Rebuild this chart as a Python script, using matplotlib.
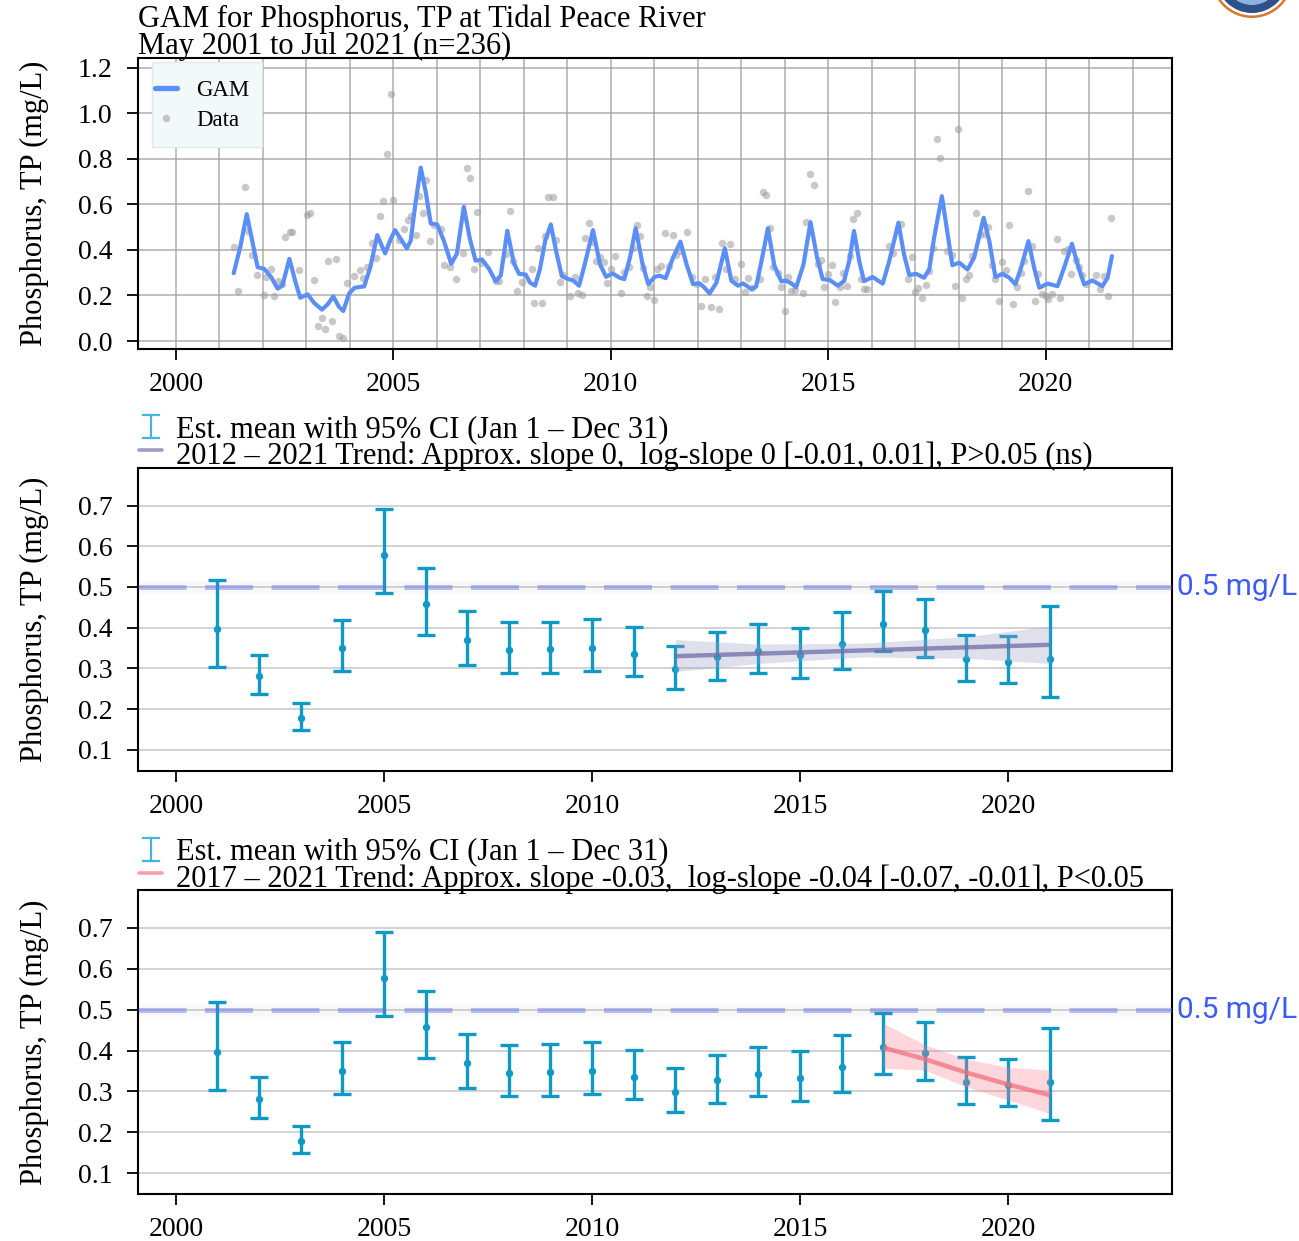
import numpy as np
import matplotlib
matplotlib.use("Agg")
import matplotlib.pyplot as plt
from matplotlib.lines import Line2D
from matplotlib.patches import Ellipse, Rectangle

plt.rcParams['font.family'] = ['Liberation Serif', 'DejaVu Serif']

# ---- top panel: GAM curve ----
gam_t = [2001.33, 2001.48, 2001.63, 2001.77, 2001.88, 2002.03, 2002.19, 2002.34, 2002.45, 2002.61,
         2002.76, 2002.86, 2003.03, 2003.18, 2003.36, 2003.49, 2003.62, 2003.75, 2003.85, 2003.98,
         2004.11, 2004.33, 2004.47, 2004.63, 2004.81, 2004.94, 2005.04, 2005.17, 2005.31, 2005.40,
         2005.51, 2005.63, 2005.74, 2005.86, 2006.01, 2006.16, 2006.33, 2006.46, 2006.62, 2006.76,
         2006.89, 2007.04, 2007.20, 2007.35, 2007.47, 2007.62, 2007.77, 2007.89, 2008.04,
         2008.14, 2008.26, 2008.37, 2008.49, 2008.62, 2008.74, 2008.87, 2008.98, 2009.14, 2009.27,
         2009.40, 2009.59, 2009.75, 2009.89, 2010.04, 2010.19, 2010.31, 2010.44, 2010.57, 2010.73,
         2010.86, 2011.01, 2011.12, 2011.26, 2011.43, 2011.60, 2011.74, 2011.89, 2012.04, 2012.16,
         2012.27, 2012.43, 2012.62, 2012.77, 2012.92, 2013.04, 2013.23, 2013.34, 2013.48, 2013.61,
         2013.76, 2013.92, 2014.03, 2014.15, 2014.26, 2014.43, 2014.59, 2014.74, 2014.87, 2015.03,
         2015.22, 2015.36, 2015.48, 2015.59, 2015.71, 2015.82, 2016.02, 2016.25, 2016.40, 2016.61,
         2016.74, 2016.86, 2017.02, 2017.20, 2017.32, 2017.43, 2017.61, 2017.72, 2017.85, 2018.01,
         2018.20, 2018.35, 2018.57, 2018.70, 2018.84, 2019.00, 2019.16, 2019.30, 2019.43, 2019.60,
         2019.73, 2019.85, 2020.04, 2020.27, 2020.42, 2020.60, 2020.73, 2020.88, 2021.07, 2021.30,
         2021.42, 2021.52]
gam_v = [0.298, 0.412, 0.557, 0.426, 0.324, 0.317, 0.281, 0.230, 0.244, 0.361,
         0.252, 0.190, 0.205, 0.167, 0.138, 0.161, 0.196, 0.150, 0.132, 0.208,
         0.234, 0.240, 0.324, 0.465, 0.385, 0.448, 0.487, 0.448, 0.407, 0.441,
         0.608, 0.761, 0.659, 0.516, 0.511, 0.441, 0.339, 0.383, 0.589, 0.448,
         0.353, 0.358, 0.317, 0.263, 0.288, 0.484, 0.342, 0.295, 0.292,
         0.257, 0.243, 0.316, 0.439, 0.512, 0.396, 0.287, 0.275, 0.265, 0.243,
         0.337, 0.487, 0.337, 0.282, 0.297, 0.279, 0.272, 0.367, 0.495, 0.337,
         0.250, 0.282, 0.287, 0.276, 0.367, 0.436, 0.337, 0.250, 0.253, 0.233,
         0.209, 0.257, 0.407, 0.265, 0.243, 0.253, 0.228, 0.239, 0.367, 0.495,
         0.330, 0.262, 0.265, 0.253, 0.236, 0.337, 0.522, 0.367, 0.272, 0.268,
         0.243, 0.263, 0.351, 0.483, 0.351, 0.263, 0.281, 0.252, 0.351, 0.519,
         0.380, 0.290, 0.295, 0.278, 0.314, 0.453, 0.636, 0.497, 0.333, 0.344,
         0.314, 0.366, 0.541, 0.439, 0.281, 0.295, 0.278, 0.249, 0.322, 0.439,
         0.322, 0.234, 0.252, 0.241, 0.322, 0.427, 0.336, 0.249, 0.266, 0.241,
         0.278, 0.373]

# ---- top panel: observations ----
obs_t = [2001.33, 2001.42, 2001.60, 2001.67, 2001.74, 2001.86, 2002.02, 2002.07, 2002.19, 2002.26,
         2002.34, 2002.43, 2002.51, 2002.63, 2002.68, 2002.84, 2003.01, 2003.09, 2003.18, 2003.27,
         2003.35, 2003.43, 2003.50, 2003.60, 2003.68, 2003.75, 2003.84, 2003.93, 2004.10, 2004.24,
         2004.31, 2004.40, 2004.50, 2004.60, 2004.69, 2004.76, 2004.85, 2004.94, 2005.00, 2005.13,
         2005.25, 2005.34, 2005.40, 2005.51, 2005.59, 2005.68, 2005.76, 2005.84, 2005.93, 2006.09,
         2006.16, 2006.30, 2006.43, 2006.59, 2006.69, 2006.76, 2006.85, 2006.93, 2007.01, 2007.17,
         2007.35, 2007.43, 2007.58, 2007.68, 2007.76, 2007.85, 2007.96,
         2008.18, 2008.23, 2008.41, 2008.33, 2008.48, 2008.56, 2008.66, 2008.75, 2008.83, 2008.91,
         2009.07, 2009.17, 2009.25, 2009.33, 2009.40, 2009.49, 2009.58, 2009.67, 2009.75, 2009.84,
         2009.92, 2010.00, 2010.09, 2010.24, 2010.30, 2010.42, 2010.50, 2010.59, 2010.67, 2010.73,
         2010.82, 2010.91, 2010.99, 2011.07, 2011.16, 2011.24, 2011.42, 2011.33, 2011.50, 2011.60,
         2011.74, 2011.87, 2011.97, 2012.07, 2012.16, 2012.31, 2012.39, 2012.49, 2012.56, 2012.65,
         2012.74, 2012.85, 2012.99, 2013.08, 2013.15, 2013.25, 2013.42, 2013.50, 2013.57, 2013.66,
         2013.73, 2013.84, 2013.92, 2014.01, 2014.07, 2014.15, 2014.24, 2014.41, 2014.48, 2014.58,
         2014.66, 2014.76, 2014.84, 2014.91, 2014.99, 2015.08, 2015.16, 2015.26,
         2015.33, 2015.42, 2015.49, 2015.57, 2015.66, 2015.74, 2015.82, 2015.90, 2016.40, 2016.48,
         2016.67, 2016.83, 2016.92, 2017.00, 2017.07, 2017.15, 2017.24, 2017.32, 2017.41, 2017.49,
         2017.56, 2017.72, 2017.85, 2017.92, 2017.99, 2018.08, 2018.16, 2018.23, 2018.31, 2018.40,
         2018.48, 2018.61, 2018.68, 2018.76, 2018.84, 2018.93, 2019.00, 2019.08, 2019.16, 2019.25,
         2019.33, 2019.43, 2019.50, 2019.58, 2019.68, 2019.75, 2019.83, 2019.92, 2020.00, 2020.06,
         2020.15, 2020.25, 2020.32, 2020.42, 2020.50, 2020.57, 2020.69, 2020.77, 2020.84, 2020.93,
         2021.16, 2021.24, 2021.34, 2021.42, 2021.49]
obs_v = [0.412, 0.220, 0.676, 0.481, 0.378, 0.288, 0.201, 0.281, 0.317, 0.196,
         0.263, 0.252, 0.455, 0.480, 0.477, 0.310, 0.553, 0.560, 0.266, 0.065,
         0.099, 0.051, 0.353, 0.089, 0.361, 0.022, 0.012, 0.255, 0.284, 0.313,
         0.276, 0.324, 0.432, 0.365, 0.551, 0.615, 0.822, 1.084, 0.618, 0.444,
         0.490, 0.531, 0.550, 0.467, 0.637, 0.563, 0.708, 0.439, 0.511, 0.492,
         0.336, 0.327, 0.271, 0.385, 0.758, 0.714, 0.317, 0.567, 0.342, 0.393,
         0.262, 0.262, 0.383, 0.569, 0.353, 0.220, 0.259,
         0.316, 0.166, 0.166, 0.410, 0.461, 0.631, 0.631, 0.442, 0.260, 0.291,
         0.196, 0.279, 0.209, 0.204, 0.451, 0.519, 0.436, 0.352, 0.369, 0.345,
         0.253, 0.316, 0.374, 0.211, 0.301, 0.326, 0.410, 0.509, 0.461, 0.320,
         0.199, 0.236, 0.182, 0.316, 0.330, 0.476, 0.465, 0.330, 0.378, 0.396,
         0.480, 0.279, 0.250, 0.156, 0.272, 0.148, 0.282, 0.141, 0.432, 0.316,
         0.425, 0.272, 0.340, 0.214, 0.276, 0.233, 0.272, 0.655, 0.643, 0.497,
         0.323, 0.297, 0.239, 0.134, 0.279, 0.218, 0.224, 0.209, 0.524, 0.733,
         0.687, 0.337, 0.355, 0.236, 0.294, 0.333, 0.170, 0.236,
         0.300, 0.241, 0.373, 0.538, 0.563, 0.271, 0.227, 0.227, 0.417, 0.388,
         0.515, 0.271, 0.369, 0.216, 0.234, 0.190, 0.246, 0.307, 0.407, 0.885,
         0.804, 0.395, 0.377, 0.241, 0.933, 0.190, 0.271, 0.290, 0.373, 0.563,
         0.465, 0.471, 0.500, 0.336, 0.271, 0.176, 0.348, 0.314, 0.509, 0.161,
         0.237, 0.300, 0.351, 0.658, 0.417, 0.176, 0.293, 0.205, 0.197, 0.183,
         0.205, 0.446, 0.187, 0.395, 0.402, 0.295, 0.358, 0.325, 0.290, 0.249,
         0.288, 0.227, 0.285, 0.197, 0.541]

# ---- annual means with 95% CI ----
ci_year = list(range(2001, 2022))
ci_mean = [0.397, 0.281, 0.179, 0.351, 0.578, 0.458, 0.369, 0.345, 0.347, 0.351, 0.336,
           0.299, 0.327, 0.342, 0.333, 0.360, 0.409, 0.395, 0.323, 0.316, 0.323]
ci_lo = [0.303, 0.236, 0.149, 0.293, 0.484, 0.382, 0.309, 0.288, 0.289, 0.293, 0.281,
         0.249, 0.272, 0.288, 0.276, 0.298, 0.342, 0.329, 0.269, 0.263, 0.230]
ci_hi = [0.518, 0.334, 0.214, 0.420, 0.691, 0.546, 0.441, 0.413, 0.415, 0.421, 0.401,
         0.356, 0.390, 0.408, 0.400, 0.438, 0.491, 0.471, 0.383, 0.379, 0.454]

# ---- trends ----
trend1_year = [2012, 2021]
trend1_fit = [0.330, 0.358]
band1_year = [2012, 2014, 2016.5, 2019, 2021]
band1_lo = [0.292, 0.312, 0.328, 0.325, 0.312]
band1_hi = [0.371, 0.360, 0.362, 0.378, 0.404]

trend2_year = [2017, 2018, 2019, 2020, 2021]
trend2_fit = [0.407, 0.379, 0.346, 0.317, 0.291]
band2_lo = [0.357, 0.352, 0.311, 0.279, 0.246]
band2_hi = [0.467, 0.414, 0.379, 0.359, 0.352]

threshold = 0.5
ylab = "Phosphorus, TP (mg/L)"
TXT = 22

W, H = 1299, 1241
fig = plt.figure(figsize=(W / 100, H / 100), dpi=100)


def fx(x): return x / W
def fy(y): return 1 - y / H


def axes_box(top, bottom):
    return [fx(138), fy(bottom), fx(1172) - fx(138), fy(top) - fy(bottom)]


def style_axes(ax):
    for s in ax.spines.values():
        s.set_linewidth(1.5)
        s.set_color('black')
    ax.tick_params(axis='both', which='major', length=8, width=1.3, labelsize=20, color='black')
    ax.tick_params(axis='y', pad=10.5)
    ax.tick_params(axis='x', pad=8.5)
    ax.set_xticks([2000, 2005, 2010, 2015, 2020])
    ax.set_ylabel(ylab, fontsize=TXT)
    ax.yaxis.set_label_coords(-0.086, 0.5)


# ---------------- top panel ----------------
ax1 = fig.add_axes(axes_box(57.5, 349))
ax1.set_xlim(1999.13, 2022.90)
ax1.set_ylim(-0.035, 1.245)
ax1.set_xticks(range(2000, 2023), minor=True)
ax1.tick_params(axis='x', which='minor', length=0)
ax1.set_yticks(np.arange(0, 1.21, 0.2))
ax1.set_yticklabels([f"{v:.1f}" for v in np.arange(0, 1.21, 0.2)])
ax1.grid(True, which='both', color='#9a9a9a', linewidth=1.1, alpha=0.8)
ax1.set_axisbelow(True)
ax1.plot(obs_t, obs_v, 'o', color='#9c9c9c', alpha=0.55, markersize=5.4,
         markeredgewidth=0, label='Data', zorder=2)
ax1.plot(gam_t, gam_v, color='#5b8ff7', linewidth=3.0, solid_joinstyle='round',
         solid_capstyle='round', label='GAM', zorder=3)
style_axes(ax1)

# legend box drawn by hand so its padding matches
def ax1_xy(x, y):
    return (x - 138) / 1034, (349 - y) / 291.5

bx0, by0 = ax1_xy(152, 147)
bx1, by1 = ax1_xy(262, 62)
ax1.add_patch(Rectangle((bx0, by0), bx1 - bx0, by1 - by0, transform=ax1.transAxes,
                        facecolor='#f3f8f8', edgecolor='#dfeaea', linewidth=1.0, zorder=4))
h, l = ax1.get_legend_handles_labels()
lx, ly = ax1_xy(155, 80)
leg = ax1.legend(h[::-1], l[::-1], loc='upper left', bbox_to_anchor=(lx, ly),
                 borderaxespad=0, borderpad=0, fontsize=16.5, handlelength=0.95,
                 handletextpad=0.85, labelspacing=0.4, frameon=False)
leg.get_lines()[0].set_linewidth(3.8)

fig.text(fx(138), fy(26.5), "GAM for Phosphorus, TP at Tidal Peace River", fontsize=TXT,
         ha='left', va='baseline')
fig.text(fx(138), fy(54), "May 2001 to Jul 2021 (n=236)", fontsize=TXT,
         ha='left', va='baseline')


def ci_panel(top, bottom, trend_year, trend_fit, band_year, band_lo, band_hi,
             line_col, band_col, leg_y, leg_col, trend_text):
    ax = fig.add_axes(axes_box(top, bottom))
    ax.set_xlim(1999.09, 2023.94)
    ax.set_ylim(0.048, 0.793)
    ax.set_yticks(np.arange(0.1, 0.71, 0.1))
    ax.set_yticklabels([f"{v:.1f}" for v in np.arange(0.1, 0.71, 0.1)])
    ax.grid(True, axis='y', color='#d2d2d2', linewidth=1.4)
    ax.set_axisbelow(True)
    m = np.array(ci_mean)
    ax.errorbar(ci_year, m, yerr=[m - np.array(ci_lo), np.array(ci_hi) - m], fmt='o',
                color='#0f9ac6', ecolor='#0f9ac6', elinewidth=2.4, capsize=6.8,
                capthick=2.4, markersize=4.3, zorder=3)
    ax.fill_between(band_year, band_lo, band_hi, color=band_col, alpha=0.3,
                    linewidth=0, zorder=4)
    ax.plot(trend_year, trend_fit, color=line_col, linewidth=3.2, alpha=0.75,
            solid_capstyle='butt', zorder=5)
    # threshold line with faint halo
    ax.axhline(threshold, color='#888888', linewidth=9, alpha=0.05, zorder=5)
    ax.axhline(threshold, color='#5a6ce6', linewidth=3.6, alpha=0.42,
               dashes=(9.6, 3.7), zorder=6)
    ax.text(1.005, threshold, "0.5 mg/L", transform=ax.get_yaxis_transform(),
            family='Roboto', fontsize=21.5, color='#3d5cf5', ha='left', va='center',
            clip_on=False)
    style_axes(ax)

    # legend-like header
    y1 = leg_y
    fig.add_artist(Line2D([fx(151), fx(151)], [fy(y1 - 22), fy(y1 + 1)],
                          color='#45b3e3', linewidth=1.6))
    for yy in (y1 - 22, y1 + 1):
        fig.add_artist(Line2D([fx(143), fx(159)], [fy(yy), fy(yy)],
                              color='#45b3e3', linewidth=1.6))
    fig.add_artist(Line2D([fx(139), fx(162)], [fy(y1 + 13), fy(y1 + 13)],
                          color=leg_col, linewidth=2.6, solid_capstyle='round'))
    fig.text(fx(176), fy(y1), "Est. mean with 95% CI (Jan 1 \u2013 Dec 31)",
             fontsize=TXT, ha='left', va='baseline')
    fig.text(fx(176), fy(y1 + 27.5), trend_text, fontsize=TXT, ha='left', va='baseline')
    return ax


ax2 = ci_panel(467.7, 771, trend1_year, trend1_fit, band1_year, band1_lo, band1_hi,
               '#6e6ea8', '#9b9bc6', 437, '#9d9dc6',
               "2012 \u2013 2021 Trend: Approx. slope 0,  log-slope 0 [-0.01, 0.01], P>0.05 (ns)")
ax3 = ci_panel(890, 1194.3, trend2_year, trend2_fit, trend2_year, band2_lo, band2_hi,
               '#f26f7c', '#ff7a8a', 859.5, '#f5a0a8',
               "2017 \u2013 2021 Trend: Approx. slope -0.03,  log-slope -0.04 [-0.07, -0.01], P<0.05")

# partial logo in the top-right corner
for r, col in [(41, '#d9772c'), (38.5, '#ffffff'), (36, '#2f5189'), (28, '#8fb3de'),
               (22, '#2f5189')]:
    fig.add_artist(Ellipse((fx(1252), fy(-23)), 2 * r / W, 2 * r / H,
                           facecolor=col, edgecolor='none'))

fig.savefig("out.png", dpi=100)
